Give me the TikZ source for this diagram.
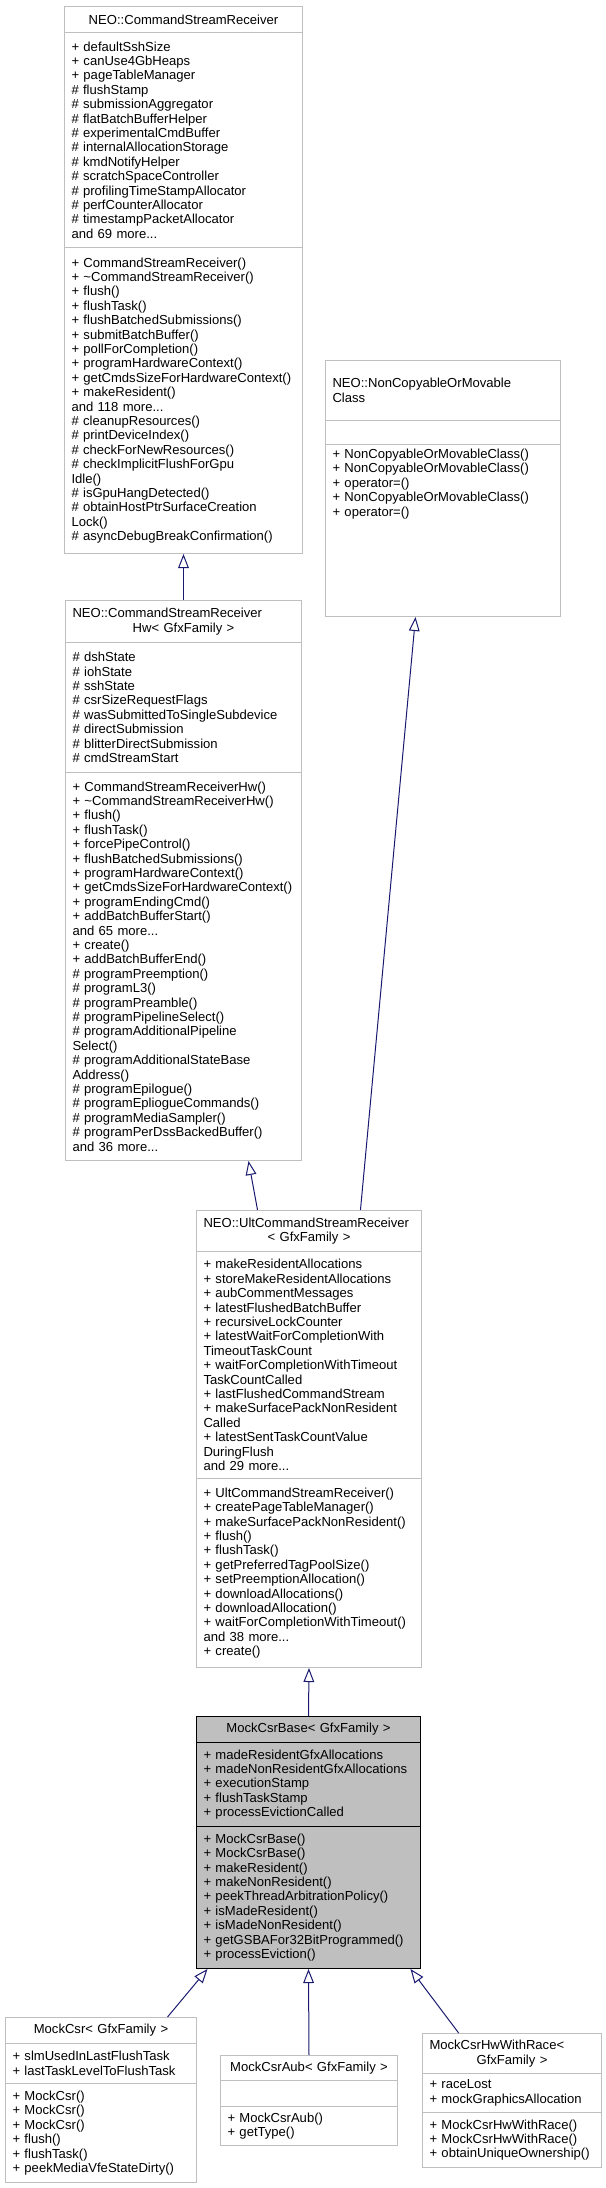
\documentclass[tikz,border=0pt]{standalone}
\usepackage{fontspec}
\setmainfont{Liberation Sans}
\usetikzlibrary{arrows.meta}
\definecolor{grey75}{RGB}{191,191,191}
\definecolor{navyedge}{RGB}{25,25,112}
\newcommand{\midline}[1]{\makebox[\hsize]{#1}}

\begin{document}
\begin{tikzpicture}[x=0.75pt,y=-0.75pt,font=\fontsize{9.8}{10.8}\selectfont,
 part/.style={draw=grey75,line width=0.75pt,fill=white,anchor=north west,inner xsep=5.25pt,inner ysep=0pt,align=left},
 hot/.style={part,draw=black,fill=grey75},
 inh/.style={draw=navyedge,line width=0.75pt,-{Triangle[open,length=10.5pt,width=8pt]}}]
\useasboundingbox (0,0) rectangle (606,2188);
\node[part,text width=168pt,minimum height=19.5pt,align=center] (csrhead) at (64,6) {NEO::CommandStreamReceiver};
\node[part,text width=168pt,minimum height=161.25pt] (csrattr) at (64,32) {+ defaultSshSize\\+ canUse4GbHeaps\\+ pageTableManager\\\# flushStamp\\\# submissionAggregator\\\# flatBatchBufferHelper\\\# experimentalCmdBuffer\\\# internalAllocationStorage\\\# kmdNotifyHelper\\\# scratchSpaceController\\\# profilingTimeStampAllocator\\\# perfCounterAllocator\\\# timestampPacketAllocator\\and 69 more...};
\node[part,text width=168pt,minimum height=229.5pt] (csrops) at (64,247) {+ CommandStreamReceiver()\\+ \textasciitilde CommandStreamReceiver()\\+ flush()\\+ flushTask()\\+ flushBatchedSubmissions()\\+ submitBatchBuffer()\\+ pollForCompletion()\\+ programHardwareContext()\\+ getCmdsSizeForHardwareContext()\\+ makeResident()\\and 118 more...\\\# cleanupResources()\\\# printDeviceIndex()\\\# checkForNewResources()\\\# checkImplicitFlushForGpu\\Idle()\\\# isGpuHangDetected()\\\# obtainHostPtrSurfaceCreation\\Lock()\\\# asyncDebugBreakConfirmation()};
\node[part,text width=166.5pt,minimum height=31.5pt] (hwhead) at (65,600) {NEO::CommandStreamReceiver\\\midline{Hw< GfxFamily >}};
\node[part,text width=166.5pt,minimum height=97.5pt] (hwattr) at (65,642) {\# dshState\\\# iohState\\\# sshState\\\# csrSizeRequestFlags\\\# wasSubmittedToSingleSubdevice\\\# directSubmission\\\# blitterDirectSubmission\\\# cmdStreamStart};
\node[part,text width=166.5pt,minimum height=291pt] (hwops) at (65,772) {+ CommandStreamReceiverHw()\\+ \textasciitilde CommandStreamReceiverHw()\\+ flush()\\+ flushTask()\\+ forcePipeControl()\\+ flushBatchedSubmissions()\\+ programHardwareContext()\\+ getCmdsSizeForHardwareContext()\\+ programEndingCmd()\\+ addBatchBufferStart()\\and 65 more...\\+ create()\\+ addBatchBufferEnd()\\\# programPreemption()\\\# programL3()\\\# programPreamble()\\\# programPipelineSelect()\\\# programAdditionalPipeline\\Select()\\\# programAdditionalStateBase\\Address()\\\# programEpilogue()\\\# programEpliogueCommands()\\\# programMediaSampler()\\\# programPerDssBackedBuffer()\\and 36 more...};
\node[part,text width=165.75pt,minimum height=45pt] (nchead) at (325,360) {NEO::NonCopyableOrMovable\\Class};
\node[part,text width=165.75pt,minimum height=18pt] (ncattr) at (325,420) {};
\node[part,text width=165.75pt,text height=10.5pt,text depth=118.5pt] (ncops) at (325,444) {+ NonCopyableOrMovableClass()\\+ NonCopyableOrMovableClass()\\+ operator=()\\+ NonCopyableOrMovableClass()\\+ operator=()};
\node[part,text width=158.25pt,minimum height=30.75pt] (ulthead) at (196,1210) {NEO::UltCommandStreamReceiver\\\midline{< GfxFamily >}};
\node[part,text width=158.25pt,minimum height=170.25pt] (ultattr) at (196,1251) {+ makeResidentAllocations\\+ storeMakeResidentAllocations\\+ aubCommentMessages\\+ latestFlushedBatchBuffer\\+ recursiveLockCounter\\+ latestWaitForCompletionWith\\TimeoutTaskCount\\+ waitForCompletionWithTimeout\\TaskCountCalled\\+ lastFlushedCommandStream\\+ makeSurfacePackNonResident\\Called\\+ latestSentTaskCountValue\\DuringFlush\\and 29 more...};
\node[part,text width=158.25pt,minimum height=141.75pt] (ultops) at (196,1478) {+ UltCommandStreamReceiver()\\+ createPageTableManager()\\+ makeSurfacePackNonResident()\\+ flush()\\+ flushTask()\\+ getPreferredTagPoolSize()\\+ setPreemptionAllocation()\\+ downloadAllocations()\\+ downloadAllocation()\\+ waitForCompletionWithTimeout()\\and 38 more...\\+ create()};
\node[hot,text width=157.5pt,minimum height=19.5pt,align=center] (basehead) at (196,1716) {MockCsrBase< GfxFamily >};
\node[hot,text width=157.5pt,minimum height=63pt] (baseattr) at (196,1742) {+ madeResidentGfxAllocations\\+ madeNonResidentGfxAllocations\\+ executionStamp\\+ flushTaskStamp\\+ processEvictionCalled};
\node[hot,text width=157.5pt,minimum height=106.5pt] (baseops) at (196,1826) {+ MockCsrBase()\\+ MockCsrBase()\\+ makeResident()\\+ makeNonResident()\\+ peekThreadArbitrationPolicy()\\+ isMadeResident()\\+ isMadeNonResident()\\+ getGSBAFor32BitProgrammed()\\+ processEviction()};
\node[part,text width=132.75pt,minimum height=19.5pt,align=center] (mockhead) at (5,2017) {MockCsr< GfxFamily >};
\node[part,text width=132.75pt,minimum height=30pt] (mockattr) at (5,2043) {+ slmUsedInLastFlushTask\\+ lastTaskLevelToFlushTask};
\node[part,text width=132.75pt,minimum height=74.25pt] (mockops) at (5,2083) {+ MockCsr()\\+ MockCsr()\\+ MockCsr()\\+ flush()\\+ flushTask()\\+ peekMediaVfeStateDirty()};
\node[part,text width=122.25pt,minimum height=18.75pt,align=center] (aubhead) at (220,2055) {MockCsrAub< GfxFamily >};
\node[part,text width=122.25pt,minimum height=19.5pt] (aubattr) at (220,2080) {};
\node[part,text width=122.25pt,minimum height=29.25pt] (aubops) at (220,2106) {+ MockCsrAub()\\+ getType()};
\node[part,text width=123.75pt,minimum height=30pt] (racehead) at (422,2033) {MockCsrHwWithRace<\\\midline{GfxFamily >}};
\node[part,text width=123.75pt,minimum height=29.25pt] (raceattr) at (422,2073) {+ raceLost\\+ mockGraphicsAllocation};
\node[part,text width=123.75pt,minimum height=41.25pt] (raceops) at (422,2112) {+ MockCsrHwWithRace()\\+ MockCsrHwWithRace()\\+ obtainUniqueOwnership()};

\draw[inh] (hwhead.north) -- (csrops.south); \draw[inh] ([xshift=-38.6pt]ulthead.north) -- ([xshift=48.75pt]hwops.south); \draw[inh] ([xshift=38.6pt]ulthead.north) -- ([xshift=-20.6pt]ncops.south); \draw[inh] (basehead.north) -- (ultops.south); \draw[inh] ([xshift=49.9pt]mockhead.north) -- ([xshift=-75.75pt]baseops.south); \draw[inh] (aubhead.north) -- (baseops.south); \draw[inh] ([xshift=-40pt]racehead.north) -- ([xshift=76.5pt]baseops.south);
\end{tikzpicture}
\end{document}
